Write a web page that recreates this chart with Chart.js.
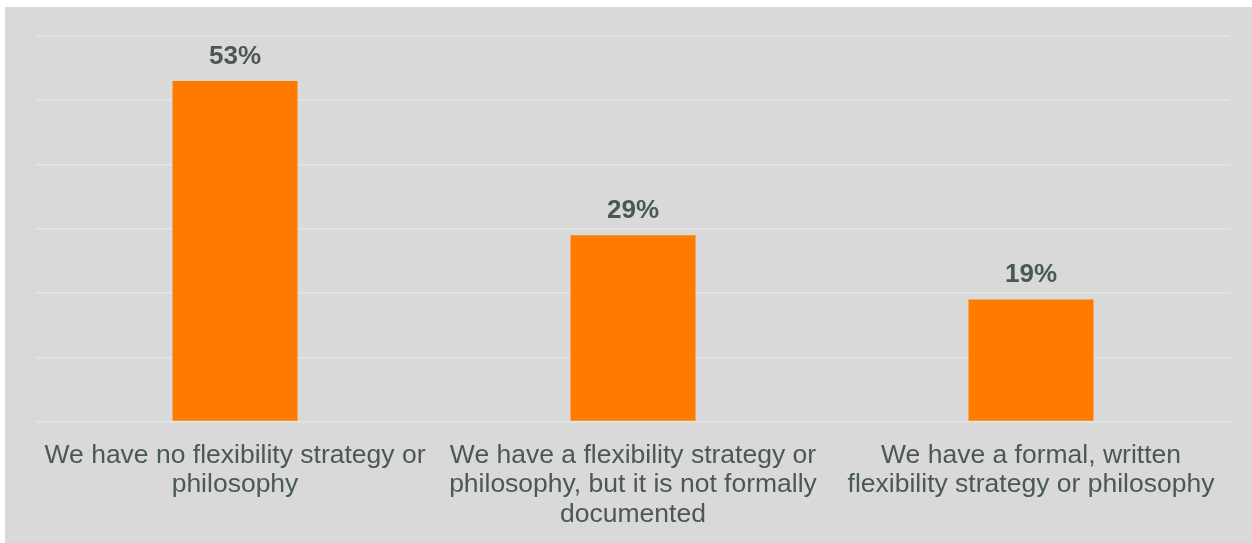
<!DOCTYPE html>
<html>
<head>
<meta charset="utf-8">
<title>Flexibility strategy</title>
<script src="https://cdn.jsdelivr.net/npm/chart.js@4/dist/chart.umd.min.js"></script>
<style>
    html, body { margin: 0; padding: 0; background: #ffffff; overflow: hidden; }
    #wrap {
        position: absolute; left: 5px; top: 7px;
        width: 1247px; height: 536px;
        background: #d9d9d9;
    }
    #chart { display: block; }
</style>
</head>
<body>
<div id="wrap"><canvas id="chart" width="1247" height="536"></canvas></div>
<script>
// survey answers
const categories = [
    ['We have no flexibility strategy or', 'philosophy'],
    ['We have a flexibility strategy or', 'philosophy, but it is not formally', 'documented'],
    ['We have a formal, written', 'flexibility strategy or philosophy']
];
const shares = [53, 29, 19];
const yTicks = [0, 10, 20, 30, 40, 50, 60];

const TEXT = '#4b5956';
const FONT = "Arial, 'Liberation Sans', sans-serif";

// percent labels above each bar
const valueLabels = {
    id: 'valueLabels',
    afterDatasetsDraw(chart) {
        const ctx = chart.ctx;
        const meta = chart.getDatasetMeta(0);
        ctx.save();
        ctx.fillStyle = TEXT;
        ctx.font = 'bold 26px ' + FONT;
        ctx.textAlign = 'center';
        ctx.textBaseline = 'alphabetic';
        meta.data.forEach((bar, i) => {
            ctx.fillText(shares[i] + '%', bar.x, bar.y - 17);
        });
        ctx.restore();
    }
};

new Chart(document.getElementById('chart'), {
    type: 'bar',
    data: {
        labels: categories,
        datasets: [{
            data: shares,
            backgroundColor: '#ff7b00',
            borderWidth: 0,
            barPercentage: 1,
            categoryPercentage: 0.314
        }]
    },
    options: {
        responsive: false,
        animation: false,
        layout: { padding: { left: 31, right: 22, top: 29, bottom: 14 } },
        plugins: { legend: { display: false }, tooltip: { enabled: false } },
        scales: {
            x: {
                grid: { display: false, drawTicks: false },
                border: { display: false },
                ticks: {
                    color: TEXT,
                    font: { family: FONT, size: 26.5, lineHeight: 1.12 },
                    padding: 19,
                    maxRotation: 0,
                    autoSkip: false
                },
                // fixed label band under the plot
                afterFit(axis) { axis.height = 107.5; }
            },
            y: {
                min: yTicks[0],
                max: yTicks[yTicks.length - 1],
                afterBuildTicks(axis) { axis.ticks = yTicks.map(v => ({ value: v })); },
                grid: { color: '#e3e5e4', lineWidth: 1.5, drawTicks: false },
                border: { display: false },
                ticks: { display: false }
            }
        }
    },
    plugins: [valueLabels]
});
</script>
</body>
</html>
